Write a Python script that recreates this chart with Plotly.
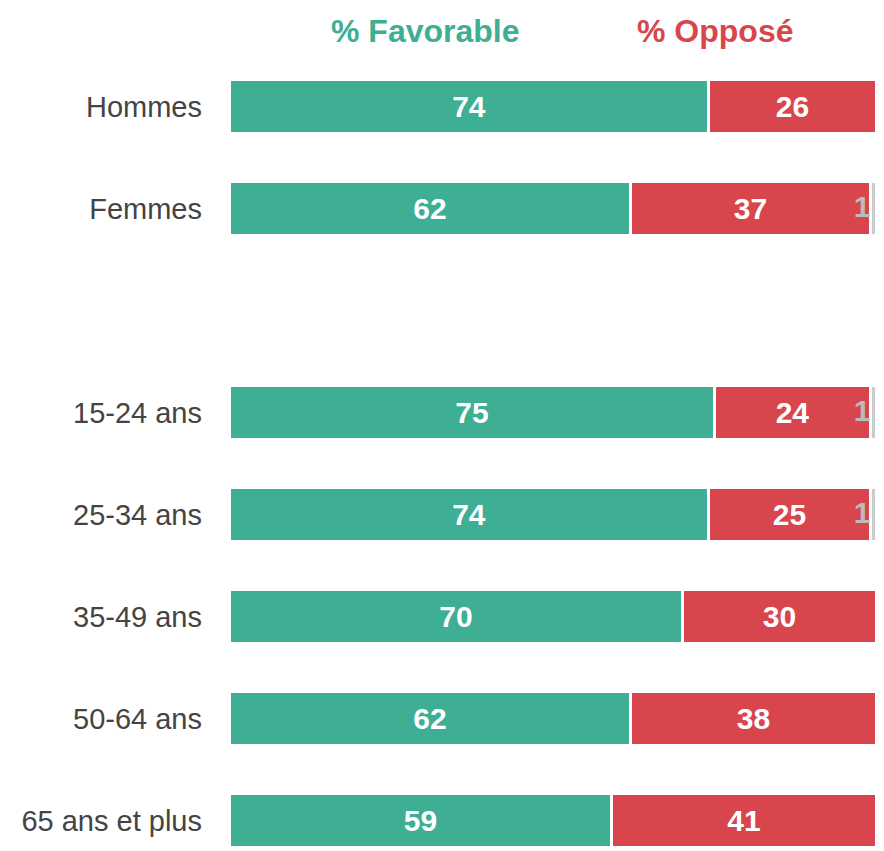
import plotly.graph_objects as go

categories = ["Hommes", "Femmes", " ", "15-24 ans", "25-34 ans", "35-49 ans", "50-64 ans", "65 ans et plus"]
favorable = [74, 62, None, 75, 74, 70, 62, 59]
oppose = [26, 37, None, 24, 25, 30, 38, 41]
nsp = [0, 1, None, 1, 1, 0, 0, 0]
series_names = ["% Favorable", "% Opposé", "NSP"]

GREEN = "#3eae94"
RED = "#d9454c"
GRAY = "#cccccc"
FONT = "Liberation Sans, Arial, sans-serif"

W, H = 876, 843
L, T, R = 222, 52, 7
PW = W - L - R

def txt(vals):
    return [str(v) if v else "" for v in vals]

fig = go.Figure()
for vals, name, color in [(favorable, series_names[0], GREEN), (oppose, series_names[1], RED), (nsp, series_names[2], GRAY)]:
    fig.add_trace(go.Bar(
        y=categories, x=vals, name=name, orientation="h",
        marker=dict(color=color, line=dict(color="white", width=3)),
        width=0.53,
        text=txt(vals) if name != "NSP" else None,
        textposition="inside", insidetextanchor="middle",
        textfont=dict(family=FONT, size=30, color="white", weight="bold"),
        hoverinfo="skip",
    ))

# labels for the small NSP segments, placed at the end of the red bar
nsp_x, nsp_y, nsp_t = [], [], []
for c, f, o, n in zip(categories, favorable, oppose, nsp):
    if n:
        nsp_x.append(f + o)
        nsp_y.append(c)
        nsp_t.append(str(n))
fig.add_trace(go.Scatter(
    x=nsp_x, y=nsp_y, text=nsp_t, mode="text", textposition="middle left",
    textfont=dict(family=FONT, size=30, color="#bbbbbb", weight="bold"),
    hoverinfo="skip", showlegend=False, cliponaxis=False,
))

fig.update_layout(
    barmode="stack",
    width=W, height=H,
    margin=dict(l=L, r=R, t=T, b=0),
    paper_bgcolor="white", plot_bgcolor="white",
    showlegend=False,
    font=dict(family=FONT),
    bargap=0,
)
fig.update_xaxes(range=[0, 100], visible=False, fixedrange=True)
fig.update_yaxes(
    categoryorder="array", categoryarray=categories,
    range=[7.294, -0.461],
    showgrid=False, zeroline=False, showline=False, ticks="",
    tickfont=dict(family=FONT, size=29, color="#444444"),
    ticklabelstandoff=27,
)

for name, color, xc in [(series_names[0], GREEN, 417), (series_names[1], RED, 707)]:
    fig.add_annotation(
        text=f"<b>{name}</b>", xref="paper", yref="paper",
        x=(xc - L) / PW, y=1, yanchor="middle", xanchor="center",
        yshift=29, showarrow=False,
        font=dict(family=FONT, size=32, color=color),
    )

fig.write_html("out.html")
